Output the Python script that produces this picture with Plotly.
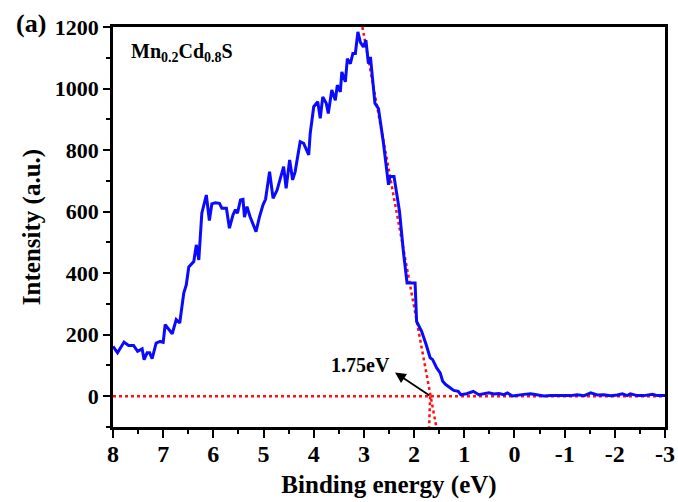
import plotly.graph_objects as go

# Spectrum data (binding energy in eV, intensity in a.u.)
energy = [8.0, 7.91, 7.78, 7.69, 7.59, 7.51, 7.42, 7.38, 7.32, 7.27, 7.22, 7.14, 7.06, 7.0,
          6.96, 6.89, 6.82, 6.74, 6.67, 6.59, 6.54, 6.49, 6.39, 6.34, 6.29, 6.23, 6.14, 6.08,
          6.03, 5.96, 5.88, 5.83, 5.74, 5.68, 5.61, 5.56, 5.52, 5.46, 5.41, 5.38, 5.33, 5.27,
          5.15, 5.08, 5.01, 4.96, 4.88, 4.81, 4.73, 4.60, 4.55, 4.48, 4.42, 4.37, 4.27, 4.20,
          4.10, 4.07, 4.00, 3.92, 3.87, 3.82, 3.75, 3.71, 3.64, 3.57, 3.53, 3.47, 3.44, 3.37,
          3.33, 3.27, 3.22, 3.17, 3.12, 3.07, 3.01, 2.96, 2.91, 2.87, 2.78, 2.71, 2.61, 2.51,
          2.48, 2.40, 2.29, 2.21, 2.14, 2.08, 1.98, 1.95, 1.85, 1.76, 1.68, 1.63, 1.55, 1.48,
          1.43, 1.37, 1.21, 1.12, 1.07, 0.95, 0.82, 0.71, 0.61, 0.51, 0.41, 0.31, 0.21, 0.14,
          0.04, -0.06, -0.19, -0.32, -0.46, -0.59, -0.72, -0.86, -0.99, -1.12, -1.25, -1.39,
          -1.52, -1.65, -1.78, -1.92, -2.05, -2.15, -2.25, -2.31, -2.45, -2.58, -2.75, -2.85,
          -3.0]
intensity = [162, 141, 176, 165, 165, 146, 154, 119, 141, 141, 122, 173, 178, 175,
             233, 216, 203, 249, 238, 335, 362, 420, 438, 492, 443, 595, 654, 571,
             625, 629, 627, 611, 611, 546, 589, 606, 595, 638, 640, 582, 616, 584,
             535, 584, 622, 640, 730, 643, 670, 746, 676, 768, 703, 730, 827, 822,
             784, 854, 941, 957, 903, 973, 952, 919, 995, 962, 1011, 989, 1054, 1022,
             1097, 1081, 1114, 1114, 1184, 1150, 1135, 1157, 1081, 1103, 952, 935, 822, 687,
             714, 714, 600, 465, 368, 368, 368, 243, 211, 168, 125, 119, 92, 76,
             49, 38, 19, 16, 5, 8, 16, 5, 8, 11, 7, 9, 5, 11,
             1, 4, 6, 8, 5, 1, 2, 2, 4, 2, 5, 2,
             11, 4, 5, 2, 4, 8, 2, 8, 2, 2, 6, 2,
             2]
assert len(energy) == len(intensity)

# Linear extrapolation (band edge) and baseline
fit_x = [3.03, 1.557]
fit_y = [1200, -100]
fit2_x = [1.68, 1.70]
fit2_y = [0, -100]
base_x = [8, -3]
base_y = [0, 0]

edge_label = "1.75eV"
sample_label = "Mn<sub>0.2</sub>Cd<sub>0.8</sub>S"

x_ticks = [8, 7, 6, 5, 4, 3, 2, 1, 0, -1, -2, -3]
x_tick_text = ["8", "7", "6", "5", "4", "3", "2", "1", "0", "-1", "-2", "-3"]
y_ticks = [0, 200, 400, 600, 800, 1000, 1200]

FONT = "Liberation Serif"

fig = go.Figure()
fig.add_trace(go.Scatter(x=base_x, y=base_y, mode="lines",
                         line=dict(color="#ff1010", width=2.5, dash="dot"), showlegend=False))
fig.add_trace(go.Scatter(x=fit_x, y=fit_y, mode="lines",
                         line=dict(color="#ff1010", width=2.5, dash="dot"), showlegend=False))
fig.add_trace(go.Scatter(x=fit2_x, y=fit2_y, mode="lines",
                         line=dict(color="#ff1010", width=2.5, dash="dot"), showlegend=False))
fig.add_trace(go.Scatter(x=energy, y=intensity, mode="lines",
                         line=dict(color="#0a0aff", width=3), showlegend=False))

# Arrow from intersection toward label
fig.add_annotation(x=2.38, y=77, ax=1.67, ay=0, xref="x", yref="y", axref="x", ayref="y",
                   text="", showarrow=True, arrowhead=2, arrowsize=1.2, arrowwidth=1.8,
                   arrowcolor="black")
fig.add_annotation(x=3.07, y=100, xref="x", yref="y", text=edge_label, showarrow=False,
                   font=dict(family=FONT, size=20, color="black", weight="bold"))
fig.add_annotation(x=7.68, y=1118, xref="x", yref="y", text=sample_label, showarrow=False,
                   xanchor="left", yanchor="middle",
                   font=dict(family=FONT, size=20, color="black", weight="bold"))
fig.add_annotation(x=-0.148, y=1.008, xref="paper", yref="paper", text="(a)", showarrow=False,
                   xanchor="center", yanchor="middle",
                   font=dict(family=FONT, size=26, color="black", weight="bold"))

axis_common = dict(showline=True, linecolor="black", linewidth=2.5, mirror=True,
                   ticks="outside", tickcolor="black", tickwidth=2, showgrid=False,
                   zeroline=False, automargin=False)

fig.update_xaxes(range=[8, -3], tickvals=x_ticks, ticktext=x_tick_text, ticklen=8,
                 ticklabelstandoff=-5,
                 tickfont=dict(family=FONT, size=24, color="black", weight="bold"),
                 title=dict(text="Binding energy (eV)", standoff=10,
                            font=dict(family=FONT, size=25, color="black", weight="bold")),
                 minor=dict(dtick=0.5, ticks="outside", ticklen=4, tickwidth=2, tickcolor="black"),
                 **axis_common)
fig.update_yaxes(range=[-100, 1200], tickvals=y_ticks, ticklen=7,
                 tickfont=dict(family=FONT, size=22, color="black", weight="bold"),
                 title=dict(text="Intensity (a.u.)", standoff=8,
                            font=dict(family=FONT, size=25, color="black", weight="bold")),
                 minor=dict(dtick=100, ticks="outside", ticklen=4, tickwidth=2, tickcolor="black"),
                 **axis_common)

fig.update_layout(width=678, height=502, margin=dict(l=113, r=13, t=27, b=75),
                  plot_bgcolor="white", paper_bgcolor="white")

fig.write_html("out.html")
